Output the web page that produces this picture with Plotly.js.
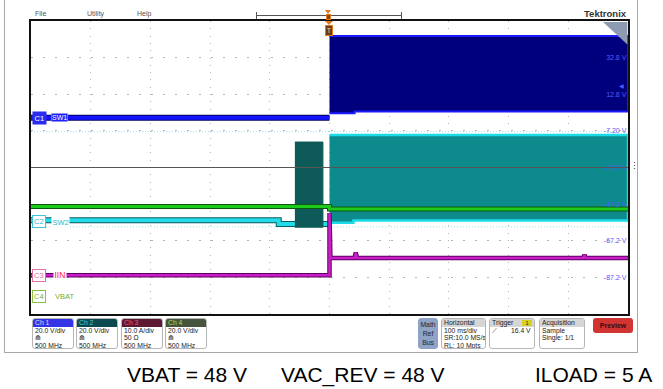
<!DOCTYPE html>
<html><head><meta charset="utf-8">
<script src="https://cdn.plot.ly/plotly-3.0.1.min.js"></script>
<style>
body{margin:0;background:#fff;}
#wrap{position:relative;width:663px;height:389px;overflow:hidden;font-family:"Liberation Sans",Arial,sans-serif;background:#fff;}
#plot{position:absolute;left:0;top:0;width:663px;height:389px;}
.ov{position:absolute;pointer-events:none;white-space:nowrap;}
.menu{font-size:7px;color:#555;top:10px;}
.box{position:absolute;top:318px;height:31px;border:1px solid #b5b5b5;border-radius:3px;background:#fff;overflow:hidden;font-size:6.8px;color:#222;box-sizing:border-box;white-space:nowrap;}
.box .hd{height:8px;line-height:8px;padding-left:2px;position:relative;}
.box .bd{padding-left:2px;line-height:7.4px;}
.cap{position:absolute;top:363px;font-size:21px;color:#000;font-family:"Liberation Sans",Arial,sans-serif;white-space:nowrap;}
</style></head>
<body>
<div id="wrap">
<div id="plot"></div>

<!-- window frame -->
<div class="ov" style="left:4px;top:-2px;width:632px;height:354px;border:1px solid #a8a8a8;border-top:none;"></div>

<!-- menu bar -->
<div class="ov menu" style="left:35px;">File</div>
<div class="ov menu" style="left:87px;">Utility</div>
<div class="ov menu" style="left:137px;">Help</div>
<div class="ov" style="left:256px;top:15px;width:146px;height:1px;background:#555;"></div>
<div class="ov" style="left:256px;top:12px;width:1px;height:7px;background:#555;"></div>
<div class="ov" style="left:401px;top:12px;width:1px;height:7px;background:#555;"></div>
<div class="ov" style="left:325px;top:10px;width:0;height:0;border-left:3.5px solid transparent;border-right:3.5px solid transparent;border-top:4px solid #e07a20;"></div>
<div class="ov" style="left:326px;top:14px;width:5px;height:6px;background:#7a4a1a;border:1px solid #e07a20;box-sizing:border-box;"></div>
<div class="ov" style="left:584px;top:8px;font-size:9.5px;font-weight:bold;color:#333;">Tektronix</div>

<!-- trigger position marker -->
<div class="ov" style="left:325px;top:21px;width:0;height:0;border-left:4px solid transparent;border-right:4px solid transparent;border-top:4px solid #e07a20;"></div>
<div class="ov" style="left:325px;top:25px;width:8px;height:11px;background:#6a3d12;border:1px solid #e07a20;box-sizing:border-box;color:#ffd9a0;font-size:7px;line-height:9px;text-align:center;">T</div>

<!-- side dots -->
<div class="ov" style="left:630px;top:161px;font-size:9px;color:#333;line-height:10px;">&#x22EE;</div>

<!-- channel boxes -->
<div class="box" style="left:32px;width:42px;"><div class="hd" style="background:#3434e6;color:#dde;">Ch 1</div><div class="bd">20.0 V/div<br>⋒<br>500 MHz</div></div>
<div class="box" style="left:76px;width:42px;"><div class="hd" style="background:#0b4a50;color:#5cc;">Ch 2</div><div class="bd">20.0 V/div<br>⋒<br>500 MHz</div></div>
<div class="box" style="left:121px;width:42px;"><div class="hd" style="background:#5c1a32;color:#e58;">Ch 3</div><div class="bd">10.0 A/div<br>50 Ω<br>500 MHz</div></div>
<div class="box" style="left:165px;width:42px;"><div class="hd" style="background:#47553c;color:#ad4;">Ch 4</div><div class="bd">20.0 V/div<br>⋒<br>500 MHz</div></div>

<div class="box" style="left:418px;width:20px;background:#8fa3c6;border-color:#8fa3c6;text-align:center;"><div class="bd" style="padding:1px 0 0 0;line-height:9px;color:#223;">Math<br>Ref<br>Bus</div></div>
<div class="box" style="left:441px;width:45px;"><div class="hd" style="background:#d6d6d6;">Horizontal</div><div class="bd">100 ms/div<br>SR:10.0 MS/s<br>RL: 10 Mpts</div></div>
<div class="box" style="left:489px;width:46px;"><div class="hd" style="background:#d6d6d6;">Trigger<span style="position:absolute;left:32px;top:1px;width:10px;height:6px;line-height:6px;background:#d8d020;text-align:center;font-size:5.5px;">1</span></div><div class="bd">&#x27CB;<span style="margin-left:14px;">16.4 V</span></div></div>
<div class="box" style="left:539px;width:46px;"><div class="hd" style="background:#d6d6d6;">Acquisition</div><div class="bd">Sample<br>Single: 1/1</div></div>
<div class="ov" style="left:593px;top:318px;width:40px;height:15px;background:#d23434;border-radius:3px;color:#3a0a0a;font-size:7px;font-weight:bold;line-height:15px;text-align:center;">Preview</div>

<!-- caption -->
<div class="cap" style="left:127px;">VBAT = 48 V</div>
<div class="cap" style="left:281px;">VAC_REV = 48 V</div>
<div class="cap" style="left:535px;">ILOAD = 5 A</div>
</div>

<script>
// ---- data (time in ms, 100 ms/div, trigger at 0) ----
// C1 SW1 (V, 20 V/div)
const c1PreT = [-500, 0];
const c1Pre = [0, 0];
const c1HiT = [0, 500];
const c1Hi = [44.6, 44.6];
const c1LoT = [0, 42, 42, 500];
const c1Lo = [2.4, 2.4, 3.4, 3.4];
// C2 SW2 (V, 20 V/div)
const c2PreT = [-500, -85, -85, 0];
const c2Pre = [0.8, 0.8, -1.2, -1.2];
const c2BlockT = [-58, -11];
const c2BlockHi = [43.5, 43.5];
const c2BlockLo = [-3, -3];
const c2HiT = [0, 500];
const c2Hi = [47.3, 47.3];
const c2LoT = [0, 40, 40, 500];
const c2Lo = [-0.6, -0.6, 0.6, 0.6];
const c2RefT = [-500, 500];
const c2RefA = [49.2, 49.2];
const c2RefB = [-2.8, -2.8];
// C3 IIN (A, 10 A/div)
const c3T = [-500, 0, 0, 1.5, 42, 44, 46, 425, 427, 429, 500];
const c3 = [0.2, 0.2, 17.2, 4.9, 4.9, 6.4, 4.9, 4.9, 5.8, 4.9, 4.9];
// C4 VBAT (V, 20 V/div)
const c4T = [-500, 0, 0, 500];
const c4 = [48.9, 48.9, 47.5, 47.5];
// C1 graticule labels
const c1TickVals = [-87.2, -67.2, -47.2, -27.2, -7.2, 12.8, 32.8];
const c1TickText = ['-87.2 V', '-67.2 V', '-47.2 V', '-27.2 V', '-7.20 V', '12.8 V', '32.8 V'];
const trigLevel = 16.4;

// channel offsets (divisions from bottom of 8-div screen) and scales
function rng(offsetDiv, perDiv) { return [-offsetDiv * perDiv, (8 - offsetDiv) * perDiv]; }

function band(hiT, hi, loT, lo) {
  return { x: hiT.concat(loT.slice().reverse()), y: hi.concat(lo.slice().reverse()) };
}
const c1Band = band(c1HiT, c1Hi, c1LoT, c1Lo);
const c2Band = band(c2HiT, c2Hi, c2LoT, c2Lo);
const c2Blk = band(c2BlockT, c2BlockHi, c2BlockT, c2BlockLo);

const traces = [
  {x: c2RefT, y: c2RefA, yaxis: 'y2', mode: 'lines', line: {color: '#9fe3ee', width: 1, dash: '1px,2px'}},
  {x: c2RefT, y: c2RefB, yaxis: 'y2', mode: 'lines', line: {color: '#9fe3ee', width: 1, dash: '1px,2px'}},
  // C1
  {x: c1PreT, y: c1Pre, yaxis: 'y', mode: 'lines', line: {color: '#000060', width: 6}},
  {x: c1PreT, y: c1Pre, yaxis: 'y', mode: 'lines', line: {color: '#1212ff', width: 4}},
  {x: c1Band.x, y: c1Band.y, yaxis: 'y', mode: 'lines', fill: 'toself', fillcolor: '#00007c', line: {color: '#1a1aff', width: 2}},
  // C2
  {x: c2PreT, y: c2Pre, yaxis: 'y2', mode: 'lines', line: {color: '#0a5a62', width: 6}},
  {x: c2PreT, y: c2Pre, yaxis: 'y2', mode: 'lines', line: {color: '#22dcea', width: 4}},
  {x: c2Blk.x, y: c2Blk.y, yaxis: 'y2', mode: 'lines', fill: 'toself', fillcolor: '#0d5a58', line: {color: '#0d5a58', width: 1}},
  {x: c2Band.x, y: c2Band.y, yaxis: 'y2', mode: 'lines', fill: 'toself', fillcolor: '#0c8a8c', line: {color: '#1adce8', width: 2.5}},
  // C4
  {x: c4T, y: c4, yaxis: 'y4', mode: 'lines', line: {color: '#0a5a0a', width: 5}},
  {x: c4T, y: c4, yaxis: 'y4', mode: 'lines', line: {color: '#1ec81e', width: 3}},
  // C3
  {x: c3T, y: c3, yaxis: 'y3', mode: 'lines', line: {color: '#600060', width: 4.5}},
  {x: c3T, y: c3, yaxis: 'y3', mode: 'lines', line: {color: '#c81ec8', width: 2.5}}
];

const gridCol = '#b4b4b4';
const badgeFont = 'Liberation Sans, Arial';
const layout = {
  width: 663, height: 389,
  margin: {l: 31, r: 35, t: 21, b: 75, pad: 0},
  paper_bgcolor: 'rgba(0,0,0,0)', plot_bgcolor: '#fff',
  showlegend: false,
  xaxis: {range: [-500, 500], dtick: 100, tick0: 0, showticklabels: false, ticks: '',
    showgrid: true, gridcolor: gridCol, griddash: '1px,6.3px', gridwidth: 1,
    zeroline: false, showline: true, mirror: true, linecolor: '#111', linewidth: 2, fixedrange: true},
  yaxis: {range: [-107.2, 52.8], tickvals: c1TickVals, ticktext: c1TickText, side: 'right',
    ticklabelposition: 'inside', ticks: '', tickfont: {size: 7, color: '#5a5af2', family: badgeFont},
    showgrid: true, gridcolor: gridCol, griddash: '2px,10px', gridwidth: 1,
    zeroline: false, showline: true, mirror: true, linecolor: '#111', linewidth: 2, fixedrange: true},
  yaxis2: {overlaying: 'y', range: rng(2.52, 20), visible: false, fixedrange: true},
  yaxis3: {overlaying: 'y', range: rng(1.04, 10), visible: false, fixedrange: true},
  yaxis4: {overlaying: 'y', range: rng(0.49, 20), visible: false, fixedrange: true},
  shapes: [
    {type: 'line', xref: 'paper', x0: 0, x1: 1, yref: 'y', y0: -27.2, y1: -27.2, line: {color: '#555', width: 1}, layer: 'above'},
    {type: 'path', xref: 'paper', yref: 'paper', path: 'M 0.958 0.997 L 0.999 0.997 L 0.999 0.92 Z', fillcolor: '#8c9bb2', line: {width: 0}, layer: 'above'}
  ],
  annotations: [
    {xref: 'paper', x: 0, xanchor: 'left', xshift: 1, yref: 'y', y: 0, text: 'C1', showarrow: false, bgcolor: '#2b2bee', font: {color: '#fff', size: 7.5, family: badgeFont}, borderpad: 1.5},
    {xref: 'paper', x: 0, xanchor: 'left', xshift: 20, yref: 'y', y: 0, text: 'SW1', showarrow: false, bgcolor: '#2020ff', bordercolor: '#ccd', borderwidth: 0.5, font: {color: '#fff', size: 7, family: badgeFont}, borderpad: 0.5},
    {xref: 'paper', x: 0, xanchor: 'left', xshift: 1, yref: 'y2', y: 0, text: 'C2', showarrow: false, bgcolor: '#fff', bordercolor: '#3ac8d8', borderwidth: 1, font: {color: '#2ab8cc', size: 7.5, family: badgeFont}, borderpad: 1},
    {xref: 'paper', x: 0, xanchor: 'left', xshift: 20, yref: 'y2', y: 0, text: 'SW2', showarrow: false, bgcolor: '#fff', font: {color: '#2ab8cc', size: 7.5, family: badgeFont}, borderpad: 0.5},
    {xref: 'paper', x: 0, xanchor: 'left', xshift: 1, yref: 'y3', y: 0, text: 'C3', showarrow: false, bgcolor: '#fff', bordercolor: '#e070a8', borderwidth: 1, font: {color: '#e070a8', size: 7.5, family: badgeFont}, borderpad: 1},
    {xref: 'paper', x: 0, xanchor: 'left', xshift: 22, yref: 'y3', y: 0, yshift: 1, text: 'IIN', showarrow: false, bgcolor: '#fff', font: {color: '#ff2020', size: 8.5, family: badgeFont}, borderpad: 0.5},
    {xref: 'paper', x: 0, xanchor: 'left', xshift: 1, yref: 'y4', y: 0, text: 'C4', showarrow: false, bgcolor: '#fff', bordercolor: '#88c040', borderwidth: 1, font: {color: '#78b030', size: 7.5, family: badgeFont}, borderpad: 1},
    {xref: 'paper', x: 0, xanchor: 'left', xshift: 22, yref: 'y4', y: 0, text: 'VBAT', showarrow: false, font: {color: '#78b030', size: 7.5, family: badgeFont}},
    {xref: 'paper', x: 1, xanchor: 'right', xshift: -3, yref: 'y', y: trigLevel, yshift: 2, text: '◀', showarrow: false, font: {color: '#4a5cff', size: 6}, borderpad: 0}
  ]
};

Plotly.newPlot('plot', traces, layout, {staticPlot: true, displayModeBar: false});
</script>
</body></html>
